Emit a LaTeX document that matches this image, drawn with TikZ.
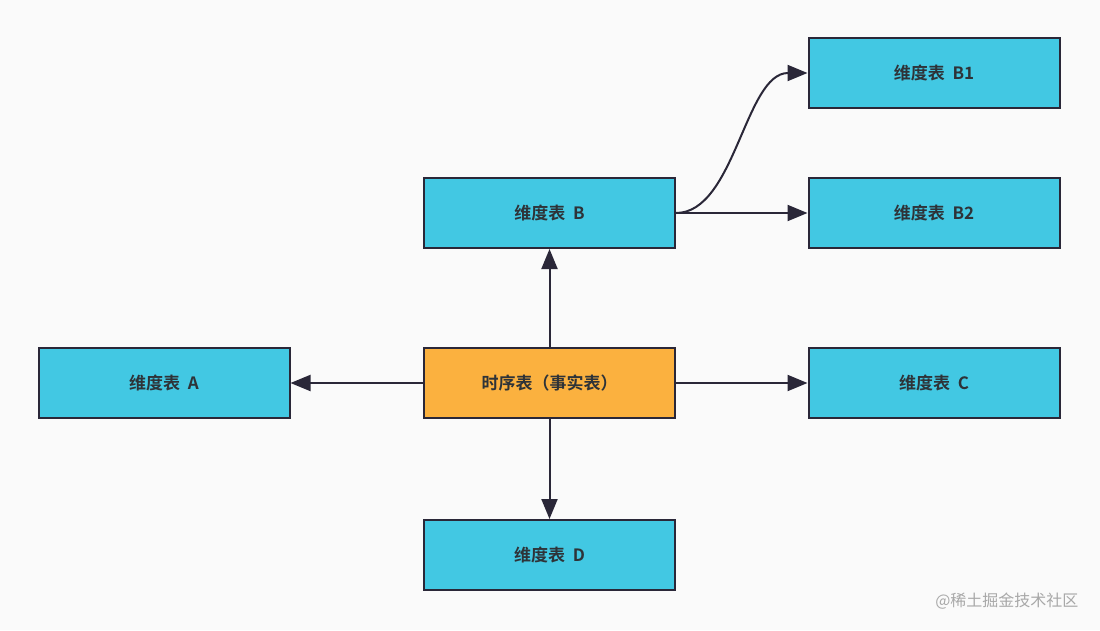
\documentclass[tikz,border=0pt]{standalone}
\usepackage{fontspec}
\setmainfont{Liberation Sans}
\newfontfamily\cjk{Noto Sans CJK SC}[BoldFont={Noto Sans CJK SC Bold}]
\usetikzlibrary{arrows.meta}
\definecolor{boxcyan}{HTML}{42C8E3}
\definecolor{boxorange}{HTML}{FBB13F}
\definecolor{lineink}{HTML}{2A2738}
\definecolor{wmgray}{HTML}{A8A8A8}
\definecolor{txt}{HTML}{2E3338}
\begin{document}
\begin{tikzpicture}[x=1pt,y=-1pt,
  tbl/.style={draw=lineink,line width=2pt,fill=boxcyan,minimum width=251pt,minimum height=70pt,inner sep=0pt,font=\cjk\bfseries\fontsize{17}{20}\selectfont,text=txt},
  fact/.style={tbl,fill=boxorange},
  conn/.style={draw=lineink,line width=2pt,-{Triangle[length=20pt,width=16pt]}}]
\fill[white!98!black] (0,0) rectangle (1100,630);
\useasboundingbox (0,0) rectangle (1100,630);
\node[fact] (F) at (549.5,383) {时序表（事实表）};
\node[tbl] (B) at (549.5,213) {维度表\ \ B};
\node[tbl] (B1) at (934,73) {维度表\ \ B1};
\node[tbl] (B2) at (934,213) {维度表\ \ B2};
\node[tbl] (A) at (164,383) {维度表\ \ A};
\node[tbl] (C) at (934,383) {维度表\ \ C};
\node[tbl] (D) at (549.5,555) {维度表\ \ D};
\draw[conn] (F) -- (B);
\draw[conn] (F) -- (A);
\draw[conn] (F) -- (C);
\draw[conn] (F) -- (D);
\draw[conn] (B.east) -- (B2.west);
\draw[conn] (B.east) .. controls (735,213) and (745,73) .. (B1.west);
\node[text=wmgray,font=\cjk\fontsize{16}{18}\selectfont,anchor=east] (wm) at (1082,601) {@稀土掘金技术社区};
\end{tikzpicture}
\end{document}
